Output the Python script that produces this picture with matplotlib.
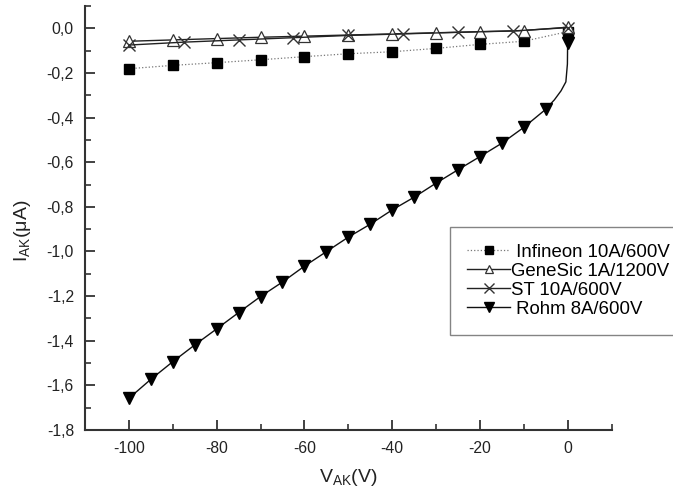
import matplotlib
matplotlib.use("Agg")
import matplotlib.pyplot as plt
from matplotlib.ticker import MultipleLocator, FuncFormatter
import numpy as np

plt.rcParams['font.family'] = ['Liberation Sans', 'DejaVu Sans']
plt.rcParams['mathtext.fontset'] = 'custom'
plt.rcParams['mathtext.rm'] = 'Liberation Sans'
plt.rcParams['mathtext.it'] = 'Liberation Sans'

# ---- data ----
infineon_v = [-100, -90, -80, -70, -60, -50, -40, -30, -20, -10, 0]
infineon_i = [-0.181, -0.166, -0.154, -0.141, -0.127, -0.114, -0.105, -0.090, -0.072, -0.058, -0.015]

genesic_v = [-100, -90, -80, -70, -60, -50, -40, -30, -20, -10, 0]
genesic_i = [-0.058, -0.052, -0.046, -0.040, -0.035, -0.030, -0.025, -0.020, -0.015, -0.010, 0.005]

st_v = [-100, -87.5, -75, -62.5, -50, -37.5, -25, -12.5, 0]
st_i = [-0.075, -0.062, -0.052, -0.042, -0.032, -0.025, -0.018, -0.012, 0.003]

rohm_v = [-100, -95, -90, -85, -80, -75, -70, -65, -60, -55, -50, -45, -40, -35,
          -30, -25, -20, -15, -10, -5, 0]
rohm_i = [-1.658, -1.573, -1.494, -1.419, -1.347, -1.274, -1.202, -1.137, -1.066, -1.001,
          -0.936, -0.878, -0.814, -0.757, -0.694, -0.634, -0.575, -0.515, -0.444, -0.363, -0.067]
# unmarked points of the measured Rohm curve near 0 V
rohm_curve_v = [-3.0, -1.5, -0.4, -0.05]
rohm_curve_i = [-0.320, -0.280, -0.240, -0.16]

labels = [' Infineon 10A/600V', 'GeneSic 1A/1200V', 'ST 10A/600V', ' Rohm 8A/600V']

fig = plt.figure(figsize=(6.73, 4.95), dpi=100)
ax = fig.add_axes([85/673, 1-430/495, (611.5-85)/673, (430-6)/495])

ax.plot(infineon_v, infineon_i, linestyle=':', color='#777777', linewidth=0.9,
        marker='s', markersize=7, markerfacecolor='black', markeredgecolor='black',
        label=labels[0])
ax.plot(genesic_v, genesic_i, linestyle='-', color='#222222', linewidth=1.0,
        marker='^', markersize=8, markerfacecolor='white', markeredgecolor='#333333',
        markeredgewidth=0.9, label=labels[1])
ax.plot(st_v, st_i, linestyle='-', color='#222222', linewidth=1.0,
        marker='x', markersize=9, markeredgecolor='#333333', markeredgewidth=1.0,
        label=labels[2])

# Rohm: full curve with markers only at measured 5 V steps
rv = np.array(rohm_v[:-1] + rohm_curve_v + rohm_v[-1:])
ri = np.array(rohm_i[:-1] + rohm_curve_i + rohm_i[-1:])
ax.plot(rv, ri, linestyle='-', color='#111111', linewidth=1.0)
ax.plot(rohm_v, rohm_i, linestyle='none', marker='v', markersize=9,
        markerfacecolor='black', markeredgecolor='black')
# legend proxy for Rohm
ax.plot([], [], linestyle='-', color='#111111', linewidth=1.0, marker='v', markersize=9,
        markerfacecolor='black', markeredgecolor='black', label=labels[3])

ax.set_xlim(-110, 10)
ax.set_ylim(-1.8, 0.1)

ax.spines['top'].set_visible(False)
ax.spines['right'].set_visible(False)
for s in ['left', 'bottom']:
    ax.spines[s].set_linewidth(1.5)
    ax.spines[s].set_color('#333333')

ax.xaxis.set_minor_locator(MultipleLocator(10))
ax.yaxis.set_major_locator(MultipleLocator(0.2))
ax.yaxis.set_minor_locator(MultipleLocator(0.1))
ax.set_xticks(np.arange(-100, 1, 20))

ax.xaxis.set_major_formatter(FuncFormatter(lambda v, p: "0" if abs(v) < 1e-9 else f"{v:.0f}"))
ax.yaxis.set_major_formatter(FuncFormatter(lambda v, p: ("0,0" if abs(v) < 1e-9 else f"{v:.1f}".replace('.', ','))))

ax.tick_params(which='major', direction='in', length=7, width=1.3, colors='#333333',
               labelsize=11.3, labelcolor='#222222', pad=8)
ax.tick_params(which='minor', direction='in', length=4, width=1.2, colors='#333333')

ax.set_xlabel(r'V$_{\rm AK}$(V)', fontsize=14, color='#222222')
ax.set_ylabel(r'I$_{\rm AK}$($\mu$A)', fontsize=14, color='#222222')
ax.xaxis.set_label_coords(0.5, -0.088)
ax.yaxis.set_label_coords(-0.099, 0.469)

leg = ax.legend(loc='upper left', bbox_to_anchor=(450/673, 1-227/495),
                bbox_transform=fig.transFigure, frameon=True, fancybox=False,
                edgecolor='#666666', fontsize=13.4, handlelength=2.35, handletextpad=0.05,
                labelspacing=0.11, borderpad=0.9, borderaxespad=0, markerscale=0.75)
leg.get_frame().set_linewidth(1.0)

fig.savefig('out.png', dpi=100)
